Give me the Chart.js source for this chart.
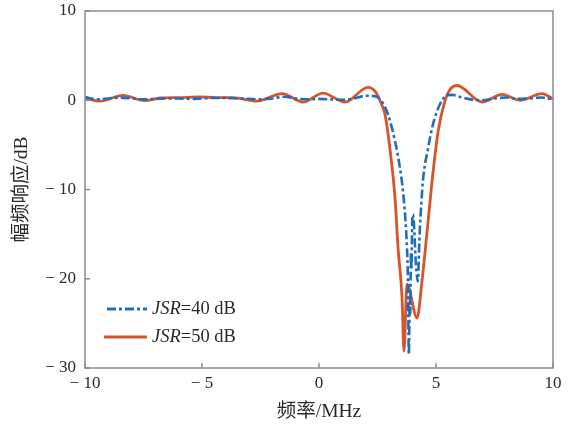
<!DOCTYPE html>
<html>
<head>
<meta charset="utf-8">
<script src="https://cdn.jsdelivr.net/npm/chart.js@4.4.1/dist/chart.umd.min.js"></script>
<style>
html,body{margin:0;padding:0;background:#fff;}
#wrap{width:575px;height:429px;}
</style>
</head>
<body>
<div id="wrap"><canvas id="c" width="575" height="429"></canvas></div>
<script>
// ---- data ----
const seriesLabels = ['40', '50'];
const xTicks = [-10, -5, 0, 5, 10];
const yTicks = [-30, -20, -10, 0, 10];

// JSR = 40 dB (blue, dash-dot)
const blueX = [-10, -9.5, -9, -8.5, -8, -7.5, -7, -6.5, -6, -5.5, -5, -4.5, -4, -3.5, -3, -2.5, -2, -1.5, -1, -0.5, 0, 0.5, 1, 1.5, 2, 2.4, 2.7, 2.95, 3.25, 3.46, 3.59, 3.70, 3.76, 3.80, 3.84, 3.88, 3.90, 3.93, 3.95, 3.98, 4.02, 4.08, 4.12, 4.16, 4.22, 4.30, 4.44, 4.66, 4.87, 5.17, 5.47, 5.7, 6, 6.5, 7, 7.5, 8, 8.5, 9, 9.5, 10];
const blueY = [0.35, 0.1, 0.2, 0.3, 0.2, 0.1, 0.15, 0.2, 0.2, 0.15, 0.2, 0.25, 0.25, 0.2, 0.15, 0.1, 0.2, 0.4, 0.2, 0.1, 0.15, 0.1, 0.05, 0.2, 0.5, 0.45, -0.2, -1.6, -4.6, -7.6, -10.2, -13.6, -16.6, -20, -28.5, -22, -24, -17, -19, -14, -12.8, -15, -17.5, -19, -20.3, -15, -9.1, -5.4, -2.7, -0.45, 0.55, 0.6, 0.4, 0.1, 0.0, 0.2, 0.3, 0.15, 0.2, 0.3, 0.1];

// JSR = 50 dB (red, solid)
const redX = [-10, -9.36, -8.38, -7.44, -6.8, -6, -5.09, -4.4, -3.68, -2.65, -1.58, -0.68, 0.17, 1.11, 2.09, 2.4, 2.65, 2.82, 3.03, 3.25, 3.38, 3.55, 3.63, 3.76, 4.19, 4.40, 4.62, 4.83, 5.09, 5.38, 5.60, 5.90, 6.97, 7.82, 8.59, 9.53, 10];
const redY = [0.25, -0.1, 0.55, -0.05, 0.25, 0.3, 0.37, 0.3, 0.3, -0.1, 0.75, -0.2, 0.8, -0.2, 1.45, 1.0, -0.3, -1.57, -5.4, -11, -16.6, -22.2, -28.1, -20.6, -24.4, -20.3, -14.7, -9.1, -3.5, -0.1, 1.2, 1.65, -0.2, 0.65, 0.0, 0.75, 0.15];

const BLUE = '#1f6fb8';
const RED = '#d9542a';
const AXIS = '#8c8c8c';
const TEXT = '#2a2a2a';
const SERIF = "'Liberation Serif', 'Noto Sans CJK SC', serif";

const toPts = (xs, ys) => xs.map((x, i) => ({x: x, y: ys[i]}));
const minus = v => (v < 0 ? '\u2212 ' + Math.abs(v) : String(v));

const framePlugin = {
  id: 'frame',
  afterDraw(chart) {
    const {ctx, chartArea: a, scales} = chart;
    ctx.save();
    ctx.strokeStyle = AXIS;
    ctx.lineWidth = 1.5;
    ctx.strokeRect(a.left, a.top, a.right - a.left, a.bottom - a.top);
    const tl = 5;
    ctx.beginPath();
    xTicks.forEach(v => {
      const px = scales.x.getPixelForValue(v);
      ctx.moveTo(px, a.bottom); ctx.lineTo(px, a.bottom - tl);
    });
    yTicks.forEach(v => {
      const py = scales.y.getPixelForValue(v);
      ctx.moveTo(a.left, py); ctx.lineTo(a.left + tl, py);
    });
    ctx.stroke();

    // legend
    const lx0 = a.left + 20, lx1 = a.left + 62, tx = a.left + 67;
    const rows = [
      {y: a.bottom - 59, color: BLUE, dash: [9, 3, 3, 3], val: seriesLabels[0]},
      {y: a.bottom - 31, color: RED, dash: [], val: seriesLabels[1]}
    ];
    rows.forEach(r => {
      ctx.beginPath();
      ctx.setLineDash(r.dash);
      ctx.strokeStyle = r.color;
      ctx.lineWidth = 2.8;
      ctx.moveTo(r.dash.length ? lx0 + 2 : lx0 - 1, r.y);
      ctx.lineTo(lx1, r.y);
      ctx.stroke();
      ctx.setLineDash([]);
      ctx.fillStyle = TEXT;
      ctx.textBaseline = 'middle';
      ctx.textAlign = 'left';
      ctx.font = "italic 18.5px " + SERIF;
      ctx.fillText('JSR', tx, r.y);
      const w = ctx.measureText('JSR').width;
      ctx.font = "18.5px " + SERIF;
      ctx.fillText('=' + r.val + ' dB', tx + w, r.y);
    });
    ctx.restore();
  }
};

new Chart(document.getElementById('c'), {
  type: 'line',
  data: {
    datasets: [
      {
        label: 'JSR=40 dB',
        data: toPts(blueX, blueY),
        borderColor: BLUE,
        borderWidth: 2.6,
        borderDash: [9, 3, 3, 3],
        pointRadius: 0,
        cubicInterpolationMode: 'monotone',
        fill: false
      },
      {
        label: 'JSR=50 dB',
        data: toPts(redX, redY),
        borderColor: RED,
        borderWidth: 2.8,
        pointRadius: 0,
        cubicInterpolationMode: 'monotone',
        fill: false
      }
    ]
  },
  options: {
    responsive: false,
    animation: false,
    devicePixelRatio: 1,
    layout: {padding: {left: 6, top: 11, right: 22, bottom: 0}},
    plugins: {legend: {display: false}, tooltip: {enabled: false}},
    scales: {
      x: {
        type: 'linear',
        min: -10, max: 10,
        afterBuildTicks(s) { s.ticks = xTicks.map(v => ({value: v})); },
        afterFit(s) { s.height = 61; s.paddingLeft = 0; s.paddingRight = 0; },
        grid: {display: false, drawTicks: false},
        border: {display: false},
        ticks: {
          padding: 5,
          color: TEXT,
          font: {family: SERIF, size: 17},
          callback: v => minus(v),
          maxRotation: 0
        },
        title: {
          display: true,
          text: '频率/MHz',
          color: TEXT,
          font: {family: SERIF, size: 19.5},
          padding: {top: 0, bottom: 5}
        }
      },
      y: {
        type: 'linear',
        min: -30, max: 10,
        afterBuildTicks(s) { s.ticks = yTicks.map(v => ({value: v})); },
        afterFit(s) { s.width = 79; s.paddingTop = 0; s.paddingBottom = 0; },
        grid: {display: false, drawTicks: false},
        border: {display: false},
        ticks: {
          padding: 9,
          color: TEXT,
          font: {family: SERIF, size: 17},
          callback: v => minus(v)
        },
        title: {
          display: true,
          text: '幅频响应/dB',
          color: TEXT,
          font: {family: SERIF, size: 19.5},
          padding: {top: 4, bottom: 0}
        }
      }
    }
  },
  plugins: [framePlugin]
});
</script>
</body>
</html>
